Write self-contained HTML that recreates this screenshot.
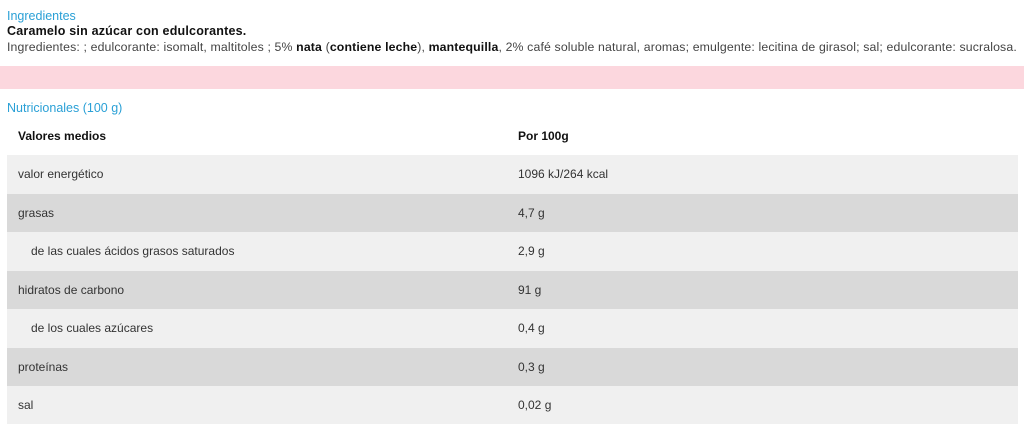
<!DOCTYPE html>
<html><head><meta charset="utf-8"><style>
body{margin:0;width:1024px;height:432px;background:#fff;font-family:"Liberation Sans",sans-serif;color:#222;overflow:hidden;position:relative}
.a{position:absolute;white-space:nowrap}
.blue{color:#2aa0d6;font-size:12.5px}
.row{position:absolute;left:7px;width:1011px;height:39px;font-size:12px;color:#333}
.row span{position:absolute;top:12px}
.row .v{left:511px}
</style></head><body>
<div class="a blue" style="left:7px;top:9px">Ingredientes</div>
<div class="a" style="left:7px;top:24px;font-size:12.5px;color:#111;font-weight:bold;letter-spacing:0.2px">Caramelo sin azúcar con edulcorantes.</div>
<div class="a" style="left:7px;top:40px;font-size:12.3px;color:#444;letter-spacing:0.14px">Ingredientes: ; edulcorante: isomalt, maltitoles ; 5% <b style="color:#111">nata</b> (<b style="color:#111">contiene leche</b>), <b style="color:#111">mantequilla</b>, 2% café soluble natural, aromas; emulgente: lecitina de girasol; sal; edulcorante: sucralosa.</div>
<div class="a" style="left:0;top:66px;width:1024px;height:23px;background:#fcd7de"></div>
<div class="a blue" style="left:7px;top:101px">Nutricionales (100 g)</div>
<div class="row" style="top:117px;height:38px;font-weight:bold;color:#111"><span style="left:11px">Valores medios</span><span class="v">Por 100g</span></div>
<div class="row" style="top:155px;background:#f0f0f0"><span style="left:11px">valor energético</span><span class="v">1096 kJ/264 kcal</span></div>
<div class="row" style="top:194px;background:#d9d9d9"><span style="left:11px">grasas</span><span class="v">4,7 g</span></div>
<div class="row" style="top:232px;background:#f0f0f0"><span style="left:24px">de las cuales ácidos grasos saturados</span><span class="v">2,9 g</span></div>
<div class="row" style="top:271px;background:#d9d9d9"><span style="left:11px">hidratos de carbono</span><span class="v">91 g</span></div>
<div class="row" style="top:309px;background:#f0f0f0"><span style="left:24px">de los cuales azúcares</span><span class="v">0,4 g</span></div>
<div class="row" style="top:348px;background:#d9d9d9"><span style="left:11px">proteínas</span><span class="v">0,3 g</span></div>
<div class="row" style="top:386px;background:#f0f0f0;height:38px"><span style="left:11px">sal</span><span class="v">0,02 g</span></div>
</body></html>
